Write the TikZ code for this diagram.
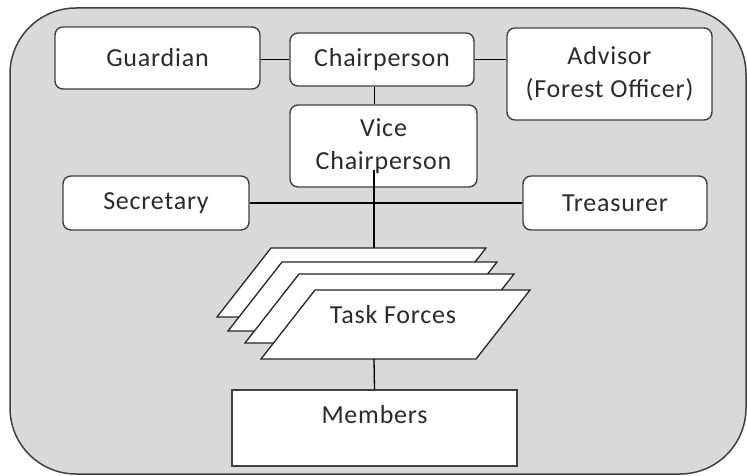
\documentclass[tikz,border=0pt]{standalone}
\usepackage{fontspec}
\setmainfont{Carlito}[LetterSpace=3]
\definecolor{panel}{HTML}{D9D9D9}
\definecolor{edge}{HTML}{404040}
\definecolor{ink}{HTML}{2B2B2B}
\begin{document}
\begin{tikzpicture}[x=1pt,y=-1pt,
  boxtext/.style={text=ink, font=\fontsize{26}{33}\selectfont, align=center, inner sep=0pt},
  roundbox/.style={boxtext, draw=edge, line width=1.4pt, fill=white, rounded corners=8pt},
  squarebox/.style={boxtext, draw=edge, line width=1.4pt, fill=white},
  link/.style={draw=black, line width=1.3pt},
  sheet/.style={draw=black!85, line width=1.3pt, fill=white, line join=miter}]
\useasboundingbox (0,0) rectangle (747,476);

% grey panel behind the chart
\draw[draw=edge, fill=panel, line width=1.5pt, rounded corners=66pt] (10,8) rectangle (746,474);

% top row
\node[roundbox, minimum width=205pt, minimum height=62pt] (guard) at (157.5,58) {Guardian};
\node[roundbox, minimum width=184pt, minimum height=53pt] (chair) at (382,59.5) {Chairperson};
\node[roundbox, minimum width=205pt, minimum height=92pt] (adv) at (609.5,74) {Advisor\\(Forest Officer)};

% second level
\node[roundbox, minimum width=187pt, minimum height=82pt] (vice) at (383.5,146) {Vice\\Chairperson};
\node[roundbox, minimum width=186pt, minimum height=54pt] (sec) at (156,203) {Secretary};
\node[roundbox, minimum width=184pt, minimum height=54pt] (tre) at (615,203) {Treasurer};

% members box, text set near the top
\node[squarebox, minimum width=285pt, minimum height=76pt, text height=17pt, text depth=27pt] (mem) at (374.5,428) {Members};

% connectors
\draw[link] (guard.east |- chair.west) -- (chair.west);
\draw[link] (chair.east) -- (chair.east -| adv.west);
\draw[link] (chair.south -| mem.north) -- (vice.north -| mem.north);
\draw[link] (sec.east) -- (tre.west);

% stacked task force sheets
\foreach \bx/\by in {217/317, 228/331, 245/343, 261/359}
  \draw[sheet] (\bx,\by) -- ++(54,-69) -- ++(215,0) -- ++(-54,69) -- cycle;
\node[boxtext] (tf) at (393,315) {Task Forces};
\coordinate (tfTop) at (374,248);
\coordinate (tfBot) at (374,359);
\coordinate (vcut) at (374,170);

\draw[link] (vcut) -- (tfTop);
\draw[link] (tfBot) -- (mem.north);
\end{tikzpicture}
\end{document}
